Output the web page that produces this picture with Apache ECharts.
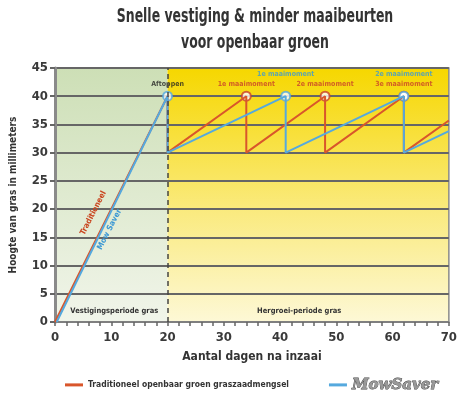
<!DOCTYPE html>
<html>
<head>
<meta charset="utf-8">
<script src="https://cdn.jsdelivr.net/npm/echarts@6/dist/echarts.min.js"></script>
<style>
  html, body { margin: 0; padding: 0; background: #fff; }
  #chart { width: 460px; height: 403px; }
</style>
</head>
<body>
<div id="chart"></div>
<script>
// grass height (mm) against days after sowing
var redDays = [0, 20, 20, 34, 34, 48, 48, 62, 62, 70];
var redHeights = [0, 40, 30, 40, 30, 40, 30, 40, 30, 35.7];
var blueDays = [0.3, 20, 20, 41, 41, 62, 62, 70];
var blueHeights = [0, 40, 30, 40, 30, 40, 30, 33.8];

var redPeakDays = [34, 48, 62];
var redPeakHeights = [40, 40, 40];
var redPeakLabels = ['1e maaimoment', '2e maaimoment', '3e maaimoment'];
var bluePeakDays = [20, 41, 62];
var bluePeakHeights = [40, 40, 40];
var bluePeakLabels = ['Aftoppen', '1e maaimoment', '2e maaimoment'];

var yTicks = [0, 5, 10, 15, 20, 25, 30, 35, 40, 45];
var xTicks = [0, 10, 20, 30, 40, 50, 60, 70];

var redName = 'Traditioneel openbaar groen graszaadmengsel';
var blueName = 'MowSaver';

var FONT = '"DejaVu Sans Condensed", "Liberation Sans Narrow", sans-serif';
var RED = '#d9562b';
var BLUE = '#55a9de';

function pairs(xs, ys) {
    return xs.map(function (x, i) { return [x, ys[i]]; });
}

var myChart = echarts.init(document.getElementById('chart'));

var option = {
    animation: false,
    // title squeezed horizontally to look like the condensed original
    graphic: [
        {
            type: 'text', x: 255, y: 8, scaleX: 0.73,
            style: {
                text: 'Snelle vestiging & minder maaibeurten',
                font: 'bold 19px ' + FONT, fill: '#333', textAlign: 'center'
            }
        },
        {
            type: 'text', x: 255, y: 34, scaleX: 0.73,
            style: {
                text: 'voor openbaar groen',
                font: 'bold 19px ' + FONT, fill: '#333', textAlign: 'center'
            }
        }
    ],
    legend: {
        left: 60,
        top: 372,
        width: 400,
        itemWidth: 18,
        itemHeight: 3,
        itemGap: 40,
        icon: 'rect',
        data: [
            { name: redName, textStyle: { fontFamily: FONT, fontSize: 8.5, fontWeight: 'bold', color: '#333' } },
            { name: blueName, textStyle: { fontFamily: 'DejaVu Serif', fontSize: 15, fontStyle: 'italic', fontWeight: 'bold', color: '#999', textBorderColor: '#444', textBorderWidth: 0.8 } }
        ]
    },
    grid: {
        left: 52, right: 5, top: 68, bottom: 81,
        show: true, borderColor: '#8a8a8a', borderWidth: 1.5
    },
    xAxis: {
        type: 'value',
        min: 0, max: 70, interval: 10,
        name: 'Aantal dagen na inzaai',
        nameLocation: 'middle',
        nameGap: 29,
        nameTextStyle: { fontFamily: FONT, fontSize: 12, fontWeight: 'bold', color: '#333' },
        axisLine: { lineStyle: { color: '#888', width: 1.5 } },
        axisTick: { show: true, length: 4, lineStyle: { color: '#666', width: 1.5 } },
        minorTick: { show: true, splitNumber: 5, length: 4, lineStyle: { color: '#666', width: 1.5 } },
        splitLine: { show: false },
        axisLabel: {
            margin: 9, fontFamily: FONT, fontSize: 13, fontWeight: 'bold', color: '#3a3a3a',
            customValues: xTicks
        }
    },
    yAxis: {
        type: 'value',
        min: 0, max: 45, interval: 5,
        name: 'Hoogte van gras in millimeters',
        nameLocation: 'middle',
        nameGap: 37,
        nameTextStyle: { fontFamily: FONT, fontSize: 10, fontWeight: 'bold', color: '#333' },
        axisLine: { show: true, lineStyle: { color: '#8a8a8a', width: 3 } },
        axisTick: { show: true, length: 5, lineStyle: { color: '#666', width: 2 } },
        splitLine: { lineStyle: { color: '#666', width: 2 } },
        axisLabel: {
            margin: 7, fontFamily: FONT, fontSize: 13, fontWeight: 'bold', color: '#3a3a3a',
            customValues: yTicks
        }
    },
    series: [
        {
            name: redName,
            type: 'line',
            data: pairs(redDays, redHeights),
            showSymbol: false,
            lineStyle: { color: RED, width: 2 },
            itemStyle: { color: RED },
            markArea: {
                z: -1,
                silent: true,
                data: [
                    [{
                        coord: [0, 0],
                        itemStyle: {
                            color: new echarts.graphic.LinearGradient(0, 0, 0, 1, [
                                { offset: 0, color: '#cddfb6' },
                                { offset: 1, color: '#f1f5ea' }
                            ])
                        },
                        label: {
                            show: true, position: 'insideBottom', distance: 7, offset: [3, 0],
                            formatter: 'Vestigingsperiode gras',
                            fontFamily: FONT, fontSize: 7.5, fontWeight: 'bold', color: '#333'
                        }
                    }, { coord: [20, 45] }],
                    [{
                        coord: [20, 0],
                        itemStyle: {
                            color: new echarts.graphic.LinearGradient(0, 0, 0, 1, [
                                { offset: 0, color: '#f6d700' },
                                { offset: 0.55, color: '#faea7c' },
                                { offset: 1, color: '#fdf8d6' }
                            ])
                        },
                        label: {
                            show: true, position: 'insideBottom', distance: 7, offset: [-9, 0],
                            formatter: 'Hergroei-periode gras',
                            fontFamily: FONT, fontSize: 7.5, fontWeight: 'bold', color: '#333'
                        }
                    }, { coord: [70, 45] }]
                ]
            },
            markLine: {
                silent: true,
                symbol: 'none',
                label: { show: false },
                lineStyle: { color: '#444', type: [5, 4], width: 1.5 },
                data: [{ xAxis: 20 }]
            },
            markPoint: {
                symbol: 'circle',
                symbolSize: 1,
                itemStyle: { color: 'rgba(0,0,0,0)' },
                data: [{
                    coord: [6.8, 19.3],
                    label: {
                        show: true, position: 'inside', rotate: 63,
                        formatter: 'Traditioneel',
                        fontFamily: FONT, fontSize: 8, fontWeight: 'bold', color: '#c9451f'
                    }
                }]
            }
        },
        {
            name: blueName,
            type: 'line',
            data: pairs(blueDays, blueHeights),
            showSymbol: false,
            lineStyle: { color: BLUE, width: 2 },
            itemStyle: { color: BLUE },
            markPoint: {
                symbol: 'circle',
                symbolSize: 1,
                itemStyle: { color: 'rgba(0,0,0,0)' },
                data: [{
                    coord: [9.7, 16.4],
                    label: {
                        show: true, position: 'inside', rotate: 63,
                        formatter: 'Mow Saver',
                        fontFamily: FONT, fontSize: 8, fontWeight: 'bold', color: '#3b98d4'
                    }
                }]
            }
        },
        {
            name: 'redPeaks',
            type: 'scatter',
            symbolSize: 9,
            itemStyle: { color: '#fff', borderColor: '#c8402a', borderWidth: 2 },
            data: redPeakDays.map(function (d, i) {
                return {
                    value: [d, redPeakHeights[i]],
                    label: {
                        show: true, position: 'top', distance: 3,
                        formatter: redPeakLabels[i],
                        fontFamily: FONT, fontSize: 7, fontWeight: 'bold', color: '#c8402a'
                    }
                };
            })
        },
        {
            name: 'bluePeaks',
            type: 'scatter',
            symbolSize: 9,
            itemStyle: { color: '#fff', borderColor: BLUE, borderWidth: 2 },
            data: bluePeakDays.map(function (d, i) {
                var first = i === 0;
                return {
                    value: [d, bluePeakHeights[i]],
                    label: {
                        show: true, position: 'top', distance: first ? 3 : 13,
                        formatter: bluePeakLabels[i],
                        fontFamily: FONT, fontSize: 7, fontWeight: 'bold',
                        color: first ? '#222' : '#3b98d4'
                    }
                };
            })
        }
    ]
};

myChart.setOption(option);
</script>
</body>
</html>
